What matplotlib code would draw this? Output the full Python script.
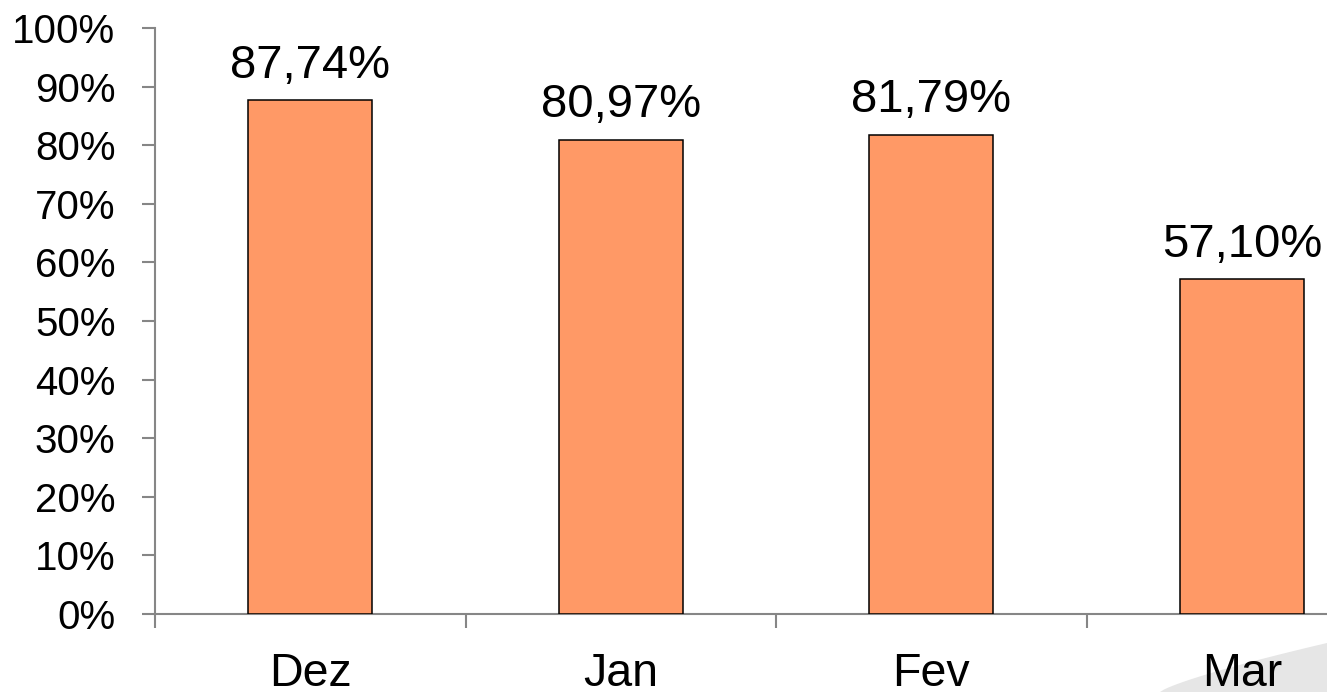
import matplotlib
matplotlib.use("Agg")
import matplotlib.pyplot as plt
from matplotlib.patches import Polygon
import numpy as np

categories = ["Dez", "Jan", "Fev", "Mar"]
values = [87.74, 80.97, 81.79, 57.10]
labels = ["87,74%", "80,97%", "81,79%", "57,10%"]
yticks = [0, 10, 20, 30, 40, 50, 60, 70, 80, 90, 100]
yticklabels = [f"{v}%" for v in yticks]

plt.rcParams['font.family'] = ['Liberation Sans', 'DejaVu Sans']

W, H = 1327, 692
fig = plt.figure(figsize=(W / 100, H / 100), dpi=100)

# decorative gray shadow at bottom right
t = np.linspace(0, 1, 40)
xs = 1160 + (1327 - 1160) * t
ys = 692 - (692 - 643) * (t ** 0.8)
pts = [(x / W, 1 - y / H) for x, y in zip(xs, ys)] + [(1, 0), (1160 / W, 0)]
fig.patches.append(Polygon(pts, closed=True, transform=fig.transFigure,
                           facecolor="#e6e6e6", edgecolor="none", zorder=0.5))

ax = fig.add_axes([155 / W, (H - 614) / H, 1242 / W, (614 - 28) / H], zorder=1)
ax.set_facecolor("none")

x = np.arange(len(categories))
bars = ax.bar(x, values, width=0.4, color="#FF9966", edgecolor="black", linewidth=1.1, zorder=3)

for xi, v, lab in zip(x, values, labels):
    ax.annotate(lab, (xi, v), xytext=(0, 16), textcoords="offset points",
                ha="center", va="baseline", fontsize=34, color="black")

ax.set_xlim(-0.5, 3.5)
ax.set_ylim(0, 100)
ax.set_yticks(yticks)
ax.set_yticklabels(yticklabels, fontsize=29)

ax.set_xticks(np.arange(-0.5, 4.0, 1.0))
ax.set_xticklabels([])
ax.set_xticks(x, minor=True)
ax.set_xticklabels(categories, minor=True, fontsize=33.5)

gray = "#868686"
for s in ["top", "right"]:
    ax.spines[s].set_visible(False)
for s in ["left", "bottom"]:
    ax.spines[s].set_color(gray)
    ax.spines[s].set_linewidth(1.5)

ax.tick_params(axis="y", which="major", direction="out", length=9.5, width=1.5, color=gray, pad=19)
ax.tick_params(axis="x", which="major", direction="out", length=10, width=1.5, color=gray)
ax.tick_params(axis="x", which="minor", length=0, pad=27)

fig.savefig("out.png", dpi=100)
